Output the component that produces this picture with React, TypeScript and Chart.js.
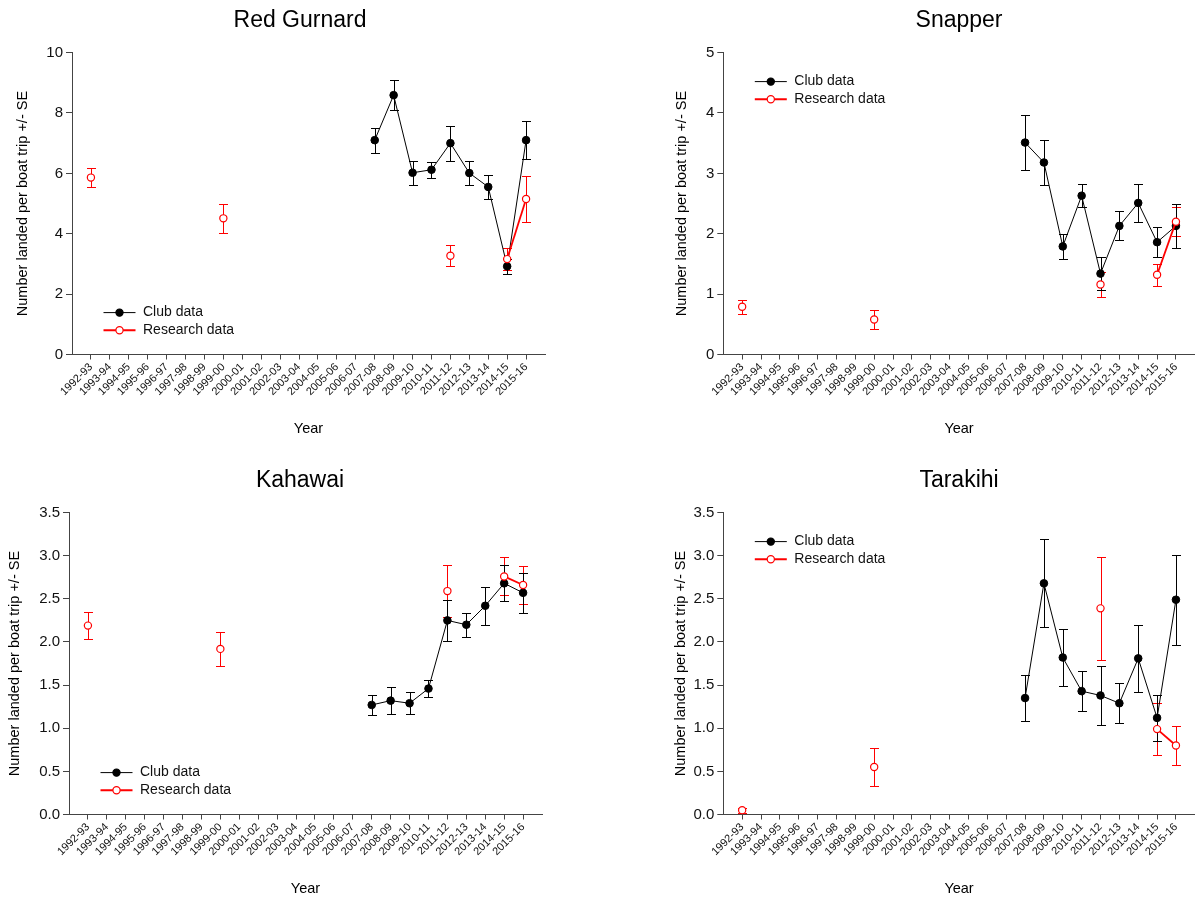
import React, { useEffect, useRef } from 'react';
import { Chart, registerables } from 'chart.js';

Chart.register(...registerables);

const FONT = '"Liberation Sans", Arial, Helvetica, sans-serif';
const RED = '#ff0000';
const _ = null;

const yearLabels = [
  '1992-93', '1993-94', '1994-95', '1995-96', '1996-97', '1997-98', '1998-99', '1999-00',
  '2000-01', '2001-02', '2002-03', '2003-04', '2004-05', '2005-06', '2006-07', '2007-08',
  '2008-09', '2009-10', '2010-11', '2011-12', '2012-13', '2013-14', '2014-15', '2015-16',
];

// Red Gurnard
const redGurnardClub = [_, _, _, _, _, _, _, _, _, _, _, _, _, _, _, 7.10, 8.59, 6.02, 6.12, 7.00, 6.01, 5.55, 2.92, 7.10];
const redGurnardClubSE = [_, _, _, _, _, _, _, _, _, _, _, _, _, _, _, 0.41, 0.49, 0.40, 0.26, 0.58, 0.39, 0.40, 0.25, 0.62];
const redGurnardResearch = [5.86, _, _, _, _, _, _, 4.51, _, _, _, _, _, _, _, _, _, _, _, 3.27, _, _, 3.16, 5.15];
const redGurnardResearchSE = [0.32, _, _, _, _, _, _, 0.47, _, _, _, _, _, _, _, _, _, _, _, 0.35, _, _, 0.37, 0.75];

// Snapper
const snapperClub = [_, _, _, _, _, _, _, _, _, _, _, _, _, _, _, 3.51, 3.18, 1.79, 2.63, 1.34, 2.13, 2.51, 1.86, 2.13];
const snapperClubSE = [_, _, _, _, _, _, _, _, _, _, _, _, _, _, _, 0.46, 0.37, 0.21, 0.19, 0.27, 0.24, 0.32, 0.25, 0.37];
const snapperResearch = [0.79, _, _, _, _, _, _, 0.58, _, _, _, _, _, _, _, _, _, _, _, 1.16, _, _, 1.32, 2.20];
const snapperResearchSE = [0.12, _, _, _, _, _, _, 0.15, _, _, _, _, _, _, _, _, _, _, _, 0.21, _, _, 0.18, 0.24];

// Kahawai
const kahawaiClub = [_, _, _, _, _, _, _, _, _, _, _, _, _, _, _, 1.27, 1.32, 1.29, 1.46, 2.25, 2.20, 2.42, 2.68, 2.57];
const kahawaiClubSE = [_, _, _, _, _, _, _, _, _, _, _, _, _, _, _, 0.12, 0.16, 0.13, 0.10, 0.24, 0.14, 0.22, 0.21, 0.23];
const kahawaiResearch = [2.19, _, _, _, _, _, _, 1.92, _, _, _, _, _, _, _, _, _, _, _, 2.59, _, _, 2.76, 2.66];
const kahawaiResearchSE = [0.16, _, _, _, _, _, _, 0.20, _, _, _, _, _, _, _, _, _, _, _, 0.30, _, _, 0.22, 0.22];

// Tarakihi
const tarakihiClub = [_, _, _, _, _, _, _, _, _, _, _, _, _, _, _, 1.35, 2.68, 1.82, 1.43, 1.38, 1.29, 1.81, 1.12, 2.49];
const tarakihiClubSE = [_, _, _, _, _, _, _, _, _, _, _, _, _, _, _, 0.27, 0.51, 0.33, 0.23, 0.34, 0.23, 0.39, 0.27, 0.52];
const tarakihiResearch = [0.05, _, _, _, _, _, _, 0.55, _, _, _, _, _, _, _, _, _, _, _, 2.39, _, _, 0.99, 0.80];
const tarakihiResearchSE = [0.03, _, _, _, _, _, _, 0.22, _, _, _, _, _, _, _, _, _, _, _, 0.60, _, _, 0.30, 0.23];

const seriesNames = ['Club data', 'Research data'];
const yAxisTitle = 'Number landed per boat trip +/- SE';
const xAxisTitle = 'Year';

type Panel = {
  title: string;
  club: (number | null)[];
  clubSE: (number | null)[];
  research: (number | null)[];
  researchSE: (number | null)[];
  yMax: number;
  yStep: number;
  decimals: number;
  boxX: number;
  boxY: number;
  axisLeft: number;
  axisRight: number;
  yTitleX: number;
  titleFull: boolean;
  legendOffsetY: number;
};

const BOX_W = 600;
const BOX_H = 460;
const AREA_BOTTOM = 354.5;

const panels: Panel[] = [
  { title: 'Red Gurnard', club: redGurnardClub, clubSE: redGurnardClubSE, research: redGurnardResearch, researchSE: redGurnardResearchSE,
    yMax: 10, yStep: 2, decimals: 0, boxX: 0, boxY: 0, axisLeft: 72, axisRight: 545, yTitleX: 22.5, titleFull: true, legendOffsetY: 260 },
  { title: 'Snapper', club: snapperClub, clubSE: snapperClubSE, research: snapperResearch, researchSE: snapperResearchSE,
    yMax: 5, yStep: 1, decimals: 0, boxX: 600, boxY: 0, axisLeft: 123.3, axisRight: 597, yTitleX: 82, titleFull: false, legendOffsetY: 29 },
  { title: 'Kahawai', club: kahawaiClub, clubSE: kahawaiClubSE, research: kahawaiResearch, researchSE: kahawaiResearchSE,
    yMax: 3.5, yStep: 0.5, decimals: 1, boxX: 0, boxY: 460, axisLeft: 69, axisRight: 542, yTitleX: 15, titleFull: true, legendOffsetY: 260 },
  { title: 'Tarakihi', club: tarakihiClub, clubSE: tarakihiClubSE, research: tarakihiResearch, researchSE: tarakihiResearchSE,
    yMax: 3.5, yStep: 0.5, decimals: 1, boxX: 600, boxY: 460, axisLeft: 123.3, axisRight: 597, yTitleX: 81, titleFull: false, legendOffsetY: 29 },
];

const errorBarPlugin = {
  id: 'errorBars',
  beforeDatasetsDraw(chart: any) {
    const { ctx } = chart;
    const xs = chart.scales.x;
    const ys = chart.scales.y;
    chart.data.datasets.forEach((ds: any) => {
      const errs = ds.errors as (number | null)[];
      if (!errs) return;
      ctx.save();
      ctx.strokeStyle = ds.borderColor;
      ctx.lineWidth = 1;
      ds.data.forEach((p: any, i: number) => {
        const e = errs[i];
        if (p.y == null || e == null) return;
        const x = Math.round(xs.getPixelForValue(p.x)) + 0.5;
        const yT = Math.round(ys.getPixelForValue(p.y + e)) + 0.5;
        const yB = Math.round(ys.getPixelForValue(p.y - e)) + 0.5;
        ctx.beginPath();
        ctx.moveTo(x, yT);
        ctx.lineTo(x, yB);
        ctx.moveTo(x - 4.5, yT);
        ctx.lineTo(x + 4.5, yT);
        ctx.moveTo(x - 4.5, yB);
        ctx.lineTo(x + 4.5, yB);
        ctx.stroke();
      });
      ctx.restore();
    });
  },
};

const insideLegendPlugin = {
  id: 'insideLegend',
  afterDatasetsDraw(chart: any, _args: any, opts: any) {
    if (!opts || !opts.display) return;
    const { ctx, chartArea } = chart;
    const items = [
      { label: seriesNames[0], color: '#000000', fill: '#000000', lineWidth: 1 },
      { label: seriesNames[1], color: RED, fill: '#ffffff', lineWidth: 2 },
    ];
    ctx.save();
    items.forEach((it, k) => {
      const y = chartArea.top + opts.offsetY + k * opts.rowGap;
      const x0 = chartArea.left + opts.offsetX;
      ctx.strokeStyle = it.color;
      ctx.lineWidth = it.lineWidth;
      ctx.beginPath();
      ctx.moveTo(x0, y);
      ctx.lineTo(x0 + 32, y);
      ctx.stroke();
      ctx.beginPath();
      ctx.arc(x0 + 16, y, 3.6, 0, Math.PI * 2);
      ctx.fillStyle = it.fill;
      ctx.fill();
      ctx.lineWidth = 1.2;
      ctx.stroke();
      ctx.fillStyle = '#111111';
      ctx.font = `14px ${FONT}`;
      ctx.textBaseline = 'middle';
      ctx.textAlign = 'left';
      ctx.fillText(it.label, x0 + 39.5, y);
    });
    ctx.restore();
  },
};

function toPoints(values: (number | null)[]) {
  return values.map((v, i) => ({ x: i, y: v }));
}

function buildConfig(p: Panel): any {
  return {
    type: 'line',
    data: {
      datasets: [
        {
          label: seriesNames[1],
          data: toPoints(p.research),
          errors: p.researchSE,
          borderColor: RED,
          backgroundColor: RED,
          borderWidth: 1.8,
          pointRadius: 3.6,
          pointBorderWidth: 1.2,
          pointBackgroundColor: '#ffffff',
          pointBorderColor: RED,
          spanGaps: false,
          order: 0,
        },
        {
          label: seriesNames[0],
          data: toPoints(p.club),
          errors: p.clubSE,
          borderColor: '#000000',
          backgroundColor: '#000000',
          borderWidth: 1,
          pointRadius: 3.8,
          pointBorderWidth: 1,
          pointBackgroundColor: '#000000',
          pointBorderColor: '#000000',
          spanGaps: false,
          order: 1,
        },
      ],
    },
    options: {
      animation: false,
      responsive: false,
      devicePixelRatio: 1,
      events: [],
      layout: { padding: 0 },
      plugins: {
        legend: { display: false },
        tooltip: { enabled: false },
        title: {
          display: true,
          text: p.title,
          fullSize: p.titleFull,
          color: '#000000',
          font: { family: FONT, size: 23, weight: 'normal', lineHeight: 1.2 },
          padding: { top: 7, bottom: 18 },
        },
        insideLegend: { display: true, offsetX: 31.5, offsetY: p.legendOffsetY, rowGap: 17.6 },
      },
      scales: {
        x: {
          type: 'linear',
          min: -1,
          max: yearLabels.length,
          afterBuildTicks: (scale: any) => {
            scale.ticks = yearLabels.map((_l, i) => ({ value: i }));
          },
          afterFit: (scale: any) => {
            scale.height = BOX_H - AREA_BOTTOM;
          },
          ticks: {
            autoSkip: false,
            minRotation: 45,
            maxRotation: 45,
            padding: 1,
            color: '#111111',
            font: { family: FONT, size: 11 },
            callback: (v: any) => yearLabels[v] ?? '',
          },
          grid: { drawOnChartArea: false, drawTicks: true, tickLength: 5, color: '#444444', lineWidth: 1 },
          border: { display: true, color: '#444444', width: 1 },
          title: {
            display: true,
            text: xAxisTitle,
            color: '#000000',
            font: { family: FONT, size: 14.5 },
            padding: { top: 0, bottom: 22.8 },
          },
        },
        y: {
          type: 'linear',
          position: 'left',
          min: 0,
          max: p.yMax,
          afterFit: (scale: any) => {
            scale.width = p.axisLeft;
          },
          ticks: {
            stepSize: p.yStep,
            padding: 3,
            color: '#111111',
            font: { family: FONT, size: 15 },
            callback: (v: any) => Number(v).toFixed(p.decimals),
          },
          grid: { drawOnChartArea: false, drawTicks: true, tickLength: 6, color: '#444444', lineWidth: 1 },
          border: { display: true, color: '#444444', width: 1 },
          title: {
            display: true,
            text: yAxisTitle,
            color: '#000000',
            font: { family: FONT, size: 14.5 },
            padding: { top: p.yTitleX - 8.7, bottom: 0 },
          },
        },
        rightSpace: {
          type: 'linear',
          position: 'right',
          min: 0,
          max: 1,
          afterFit: (scale: any) => {
            scale.width = BOX_W - p.axisRight;
          },
          ticks: { display: false },
          grid: { display: false, drawTicks: false },
          border: { display: false },
          title: { display: false },
        },
      },
    },
    plugins: [errorBarPlugin, insideLegendPlugin],
  };
}

function PanelChart({ panel }: { panel: Panel }) {
  const ref = useRef<HTMLCanvasElement | null>(null);
  useEffect(() => {
    if (!ref.current) return;
    const chart = new Chart(ref.current, buildConfig(panel));
    return () => chart.destroy();
  }, [panel]);
  return (
    <div style={{ position: 'absolute', left: panel.boxX, top: panel.boxY, width: BOX_W, height: BOX_H }}>
      <canvas ref={ref} width={BOX_W} height={BOX_H} style={{ display: 'block', width: BOX_W, height: BOX_H }} />
    </div>
  );
}

export default function App() {
  return (
    <div style={{ position: 'fixed', left: 0, top: 0, width: 1200, height: 897, overflow: 'hidden', background: '#ffffff' }}>
      {panels.map((p) => (
        <PanelChart key={p.title} panel={p} />
      ))}
    </div>
  );
}
